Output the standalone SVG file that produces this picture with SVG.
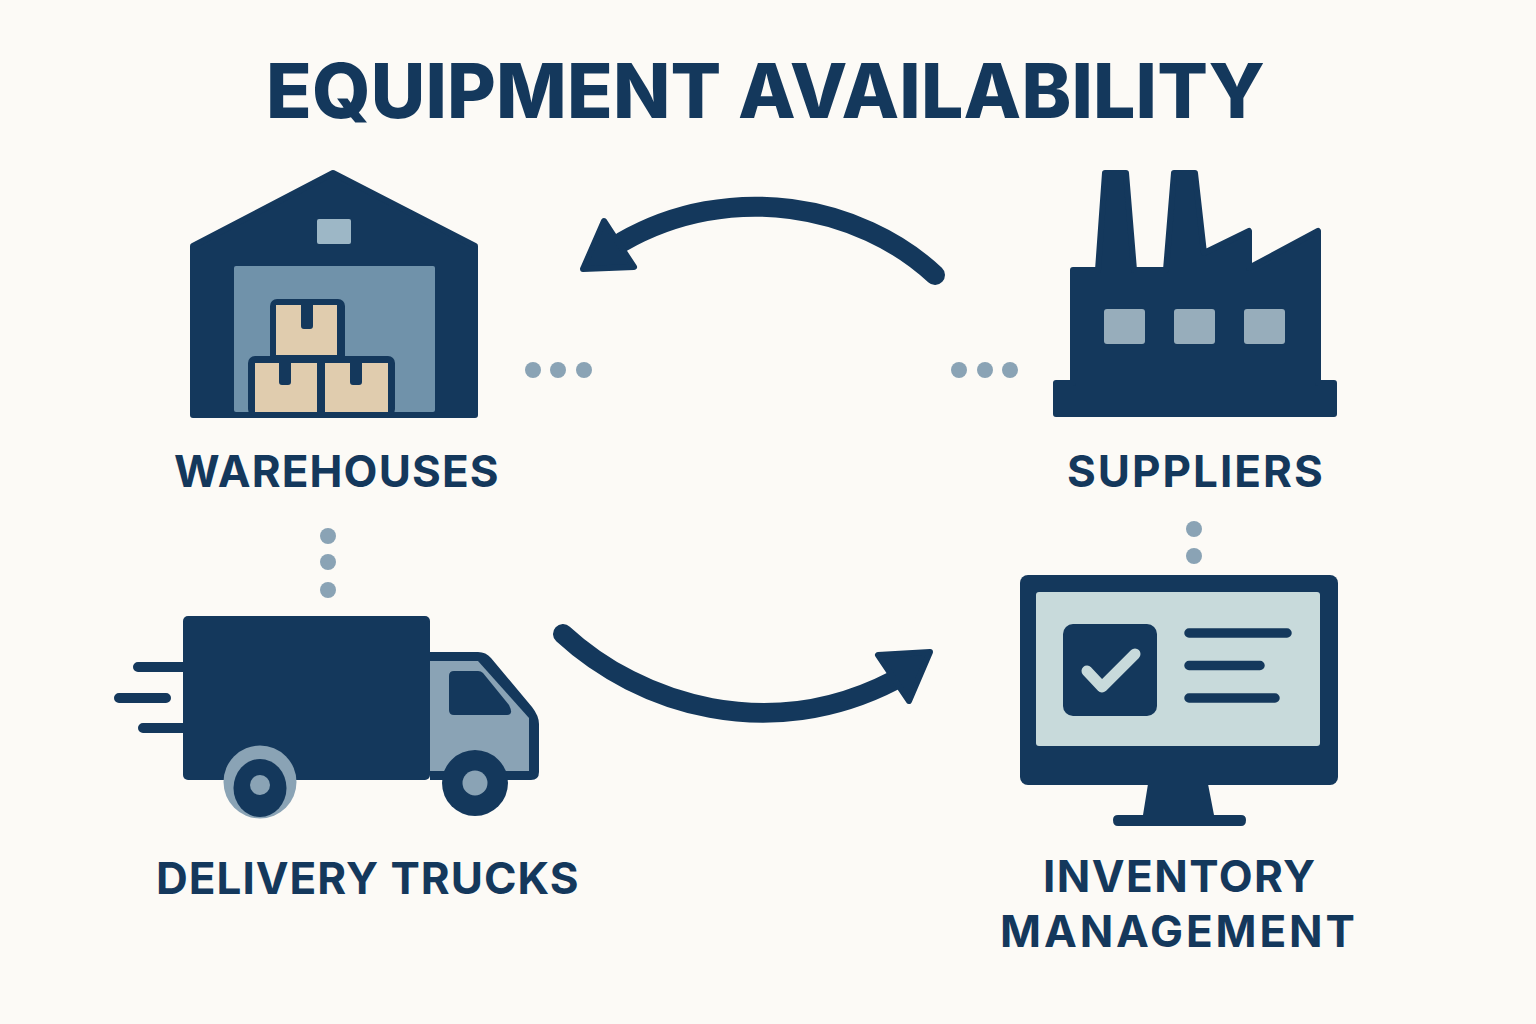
<svg xmlns="http://www.w3.org/2000/svg" width="1536" height="1024" viewBox="0 0 1536 1024">
<style>
text{font-family:Inter,"Liberation Sans",sans-serif;font-weight:700;fill:#14385c}
.t{font-size:44px}
.d{fill:#14385c}
.dj{fill:#14385c;stroke:#14385c;stroke-linejoin:round;stroke-width:6}
.o{fill:#8aa3b5}
.tan{fill:#e0ccae}
.sp{stroke:#14385c;stroke-width:10;stroke-linecap:round;fill:none}
.dot{fill:#8aa3b5}
.arc{fill:none;stroke:#14385c;stroke-width:20;stroke-linecap:round}
</style>
<rect width="1536" height="1024" fill="#fcfaf6"/>
<text id="title" x="266" y="118" font-size="75" style="font-weight:800;letter-spacing:0.18px">EQUIPMENT AVAILABILITY</text>
<g id="warehouses">
<path class="dj" d="M193 246L333 173L475 246V415H193Z"/>
<rect x="317" y="219" width="34" height="25" rx="2" fill="#9db7c6"/>
<rect x="234" y="266" width="201" height="146" rx="2" fill="#7092aa"/>
<rect class="d" x="270" y="299" width="75" height="70" rx="7"/>
<rect class="d" x="248" y="356" width="147" height="60" rx="7"/>
<rect class="tan" x="276" y="305" width="61" height="50"/>
<rect class="tan" x="255" y="363" width="62" height="49"/>
<rect class="tan" x="325" y="363" width="63" height="49"/>
<path class="d" d="M301 305h12v21q0 3-3 3h-6q-3 0-3-3ZM279 363h12v19q0 3-3 3h-6q-3 0-3-3ZM350 363h12v19q0 3-3 3h-6q-3 0-3-3Z"/>
<text class="t" x="174" y="487" style="letter-spacing:1.15px">WAREHOUSES</text>
</g>
<g id="suppliers">
<path class="dj" d="M1105 173H1126L1134 270H1166L1174 173H1195L1204 253L1249 231V268L1318 231V383H1334V414H1056V383H1073V270H1098Z"/>
<rect x="1104" y="309" width="41" height="35" rx="3" fill="#97adbb"/>
<rect x="1174" y="309" width="41" height="35" rx="3" fill="#97adbb"/>
<rect x="1244" y="309" width="41" height="35" rx="3" fill="#97adbb"/>
<text class="t" x="1067" y="487" style="letter-spacing:2px">SUPPLIERS</text>
</g>
<g id="delivery-trucks">
<path class="sp" d="M138 667H185M119 698H166M143 728H185"/>
<path class="d" d="M430 652H478Q486 652 491 658L532 707Q539 716 539 724V772Q539 780 531 780H430Z"/>
<path class="o" d="M430 661H478L529 718V771H430Z"/>
<rect class="d" x="183" y="616" width="247" height="164" rx="5"/>
<path class="d" d="M454 671H478Q481 671 483 673L509 705Q514 715 507 715H454Q449 715 449 710V676Q449 671 454 671Z"/>
<circle class="o" cx="260" cy="782" r="36.500"/>
<ellipse class="d" cx="260" cy="788" rx="26.500" ry="29"/>
<circle class="o" cx="260" cy="785" r="10"/>
<circle class="d" cx="475" cy="783" r="33"/>
<circle class="o" cx="475" cy="783" r="12.500"/>
<text class="t" x="156" y="894" style="letter-spacing:1px">DELIVERY TRUCKS</text>
</g>
<g id="inventory-management">
<rect class="d" x="1020" y="575" width="318" height="210" rx="8"/>
<rect x="1036" y="592" width="284" height="154" rx="3" fill="#c8dadb"/>
<rect class="d" x="1063" y="624" width="94" height="92" rx="10"/>
<path d="M1087 671L1102 687L1135 654" fill="none" stroke="#c8dadb" stroke-width="11" stroke-linecap="round" stroke-linejoin="round"/>
<path d="M1189 633H1287M1189 665.500H1260M1189 698H1275" fill="none" stroke="#14385c" stroke-width="9.500" stroke-linecap="round"/>
<path class="d" d="M1148 784H1208L1214 815H1241Q1246 815 1246 820Q1246 826 1241 826H1118Q1113 826 1113 820Q1113 815 1118 815H1143Z"/>
<text class="t" x="1043" y="892" style="letter-spacing:1.45px">INVENTORY</text>
<text class="t" x="1000" y="947" style="letter-spacing:2.9px">MANAGEMENT</text>
</g>
<g id="connectors">
<path class="arc" d="M935 275C860 205 730 180 622 242"/>
<path class="dj" d="M583 269L604 221L634 267Z"/>
<path class="arc" d="M563 634C640 705 770 745 895 680"/>
<path class="dj" d="M878 655L930 652L909 701Z"/>
<g class="dot">
<circle cx="533" cy="370" r="8"/><circle cx="558" cy="370" r="8"/><circle cx="584" cy="370" r="8"/>
<circle cx="959" cy="370" r="8"/><circle cx="985" cy="370" r="8"/><circle cx="1010" cy="370" r="8"/>
<circle cx="328" cy="536" r="8"/><circle cx="328" cy="562" r="8"/><circle cx="328" cy="590" r="8"/>
<circle cx="1194" cy="529" r="8"/><circle cx="1194" cy="556" r="8"/>
</g>
</g>
</svg>
